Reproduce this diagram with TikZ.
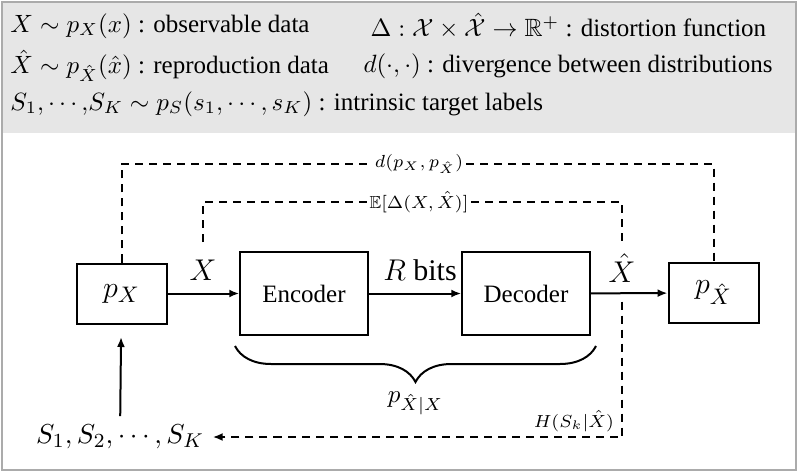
\documentclass[tikz,border=0pt]{standalone}
\usepackage{amssymb}
\usepackage{fontspec}
\setmainfont{Liberation Serif}
\usepackage{tikz}
\usepackage{xcolor}
\usetikzlibrary{arrows.meta, decorations.pathreplacing}

\definecolor{headgray}{HTML}{E6E6E6}
\definecolor{framegray}{HTML}{ABABAB}

\begin{document}
\begin{tikzpicture}[x=0.4pt, y=-0.4pt,
    blk/.style={draw, line width=0.8pt, minimum width=36pt, minimum height=24pt, inner sep=0pt},
    bigblk/.style={blk, minimum width=51pt, minimum height=33pt},
    flow/.style={line width=0.8pt, -{Latex[length=4pt, width=3.2pt]}},
    dist/.style={line width=0.8pt, dash pattern=on 3.2pt off 2.4pt},
    hd/.style={anchor=west, inner sep=0pt},
    sm/.style={font=\scriptsize, inner sep=1pt}]
  % Frame and header
  \useasboundingbox (0, 0) rectangle (798, 472);
  \fill[headgray] (2, 2) rectangle (796, 133);
  \draw[framegray, line width=0.6pt] (2, 2) rectangle (796, 470);

  % Header text
  \node[hd] (h1) at (10, 26) {$X \sim p_X(x)$ : observable data};
  \node[hd] (h2) at (10, 66) {$\hat{X} \sim p_{\hat{X}}(\hat{x})$ : reproduction data};
  \node[hd] (h3) at (10, 104) {$S_1{,}\cdots{,}S_K \sim p_S(s_1,\cdots,s_K)$ : intrinsic target labels};
  \node[hd] (h4) at (370, 26) {$\Delta : \mathcal{X} \times \hat{\mathcal{X}} \rightarrow \mathbb{R}^+$ : distortion function};
  \node[hd] (h5) at (363, 66) {$d(\cdot,\cdot)$ : divergence between distributions};

  % Blocks
  \node[blk] (px) at (121.5, 293.5) {\fontsize{13}{15}\selectfont $p_X$};
  \node[bigblk] (enc) at (304, 293.5) {Encoder};
  \node[bigblk] (dec) at (526, 293.5) {Decoder};
  \node[blk] (pxh) at (713.5, 293) {\fontsize{13}{15}\selectfont $p_{\hat{X}}$};

  % Signal labels
  \node (xl) at (203, 270) {\large $X$};
  \node (rl) at (420, 270) {\large $R$ bits};
  \node (xhl) at (622, 268) {\large $\hat{X}$};
  \node (sl) at (120, 437) {\fontsize{11.2}{13}\selectfont $S_1, S_2, \cdots, S_K$};

  % Main chain
  \draw[flow] (px) -- (enc);
  \draw[flow] (enc) -- (dec);
  \draw[flow] (dec) -- (pxh);
  \draw[flow, shorten >=5pt] (sl) -- (px);

  % Divergence between marginals
  \node[sm] (dl) at (419, 164) {$d(p_X, p_{\hat{X}})$};
  \draw[dist] (px.north) |- (dl.west);
  \draw[dist] (dl.east) -| (pxh.north);

  % Expected distortion
  \coordinate (eleft) at (xl |- 0, 242);
  \coordinate (eright) at (xhl |- 0, 243);
  \node[sm] (el) at (419, 202) {$\mathbb{E}[\Delta(X, \hat{X})]$};
  \draw[dist] (eleft) |- (el.west);
  \draw[dist] (el.east) -| (eright);

  % Conditional entropy back to labels
  \coordinate (tap) at ([yshift=-3.2pt]xhl |- dec.east);
  \coordinate (corner) at (xhl |- sl);
  \node[sm, anchor=south east] (hl) at ([xshift=-2pt, yshift=1pt]corner) {$H(S_k|\hat{X})$};
  \draw[dist, -{Latex[length=4pt, width=3.2pt]}] (tap) |- (sl.east);

  % Channel brace
  \draw[line width=0.8pt, decorate, decoration={brace, mirror, amplitude=14.4pt}]
     (235, 346) -- (596, 346)
     node[midway, below=16pt, inner sep=2pt] (chl) {$p_{\hat{X}|X}$};
\end{tikzpicture}
\end{document}
